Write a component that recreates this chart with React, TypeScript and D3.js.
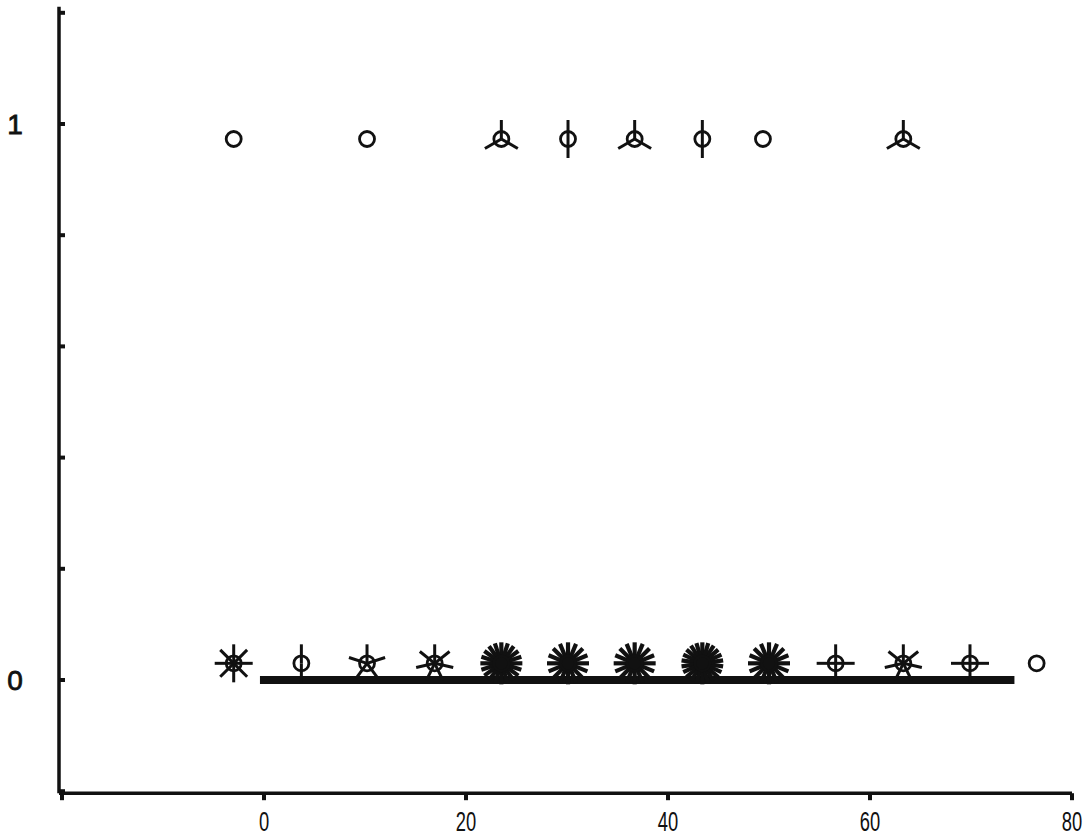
import React from "react";
import * as d3 from "d3";

const xTicks = [-20, 0, 20, 40, 60, 80];
const xTickLabels = ["", "0", "20", "40", "60", "80"];
const yTicks = [-0.2, 0, 0.2, 0.4, 0.6, 0.8, 1, 1.2];
const yTickLabels = ["", "0", "", "", "", "", "1", ""];

// upper row (y ≈ 1)
const topX = [-3, 10.2, 23.5, 30.1, 36.7, 43.4, 49.4, 63.3];
const topPetals = [1, 1, 3, 2, 3, 2, 1, 3];
const topY = 0.973;

// lower row (y ≈ 0)
const botX = [-3, 3.7, 10.2, 16.9, 23.5, 30.1, 36.7, 43.4, 50, 56.6, 63.3, 69.9, 76.5];
const botPetals = [8, 2, 5, 7, 20, 16, 16, 22, 16, 4, 7, 4, 1];
const botDark = [false, false, false, false, true, true, true, true, true, false, false, false, false];
const botY = 0.03;

const barStart = -0.4;
const barEnd = 74.3;

const W = 1091;
const H = 837;
const INK = "#111";

export default function App() {
  const x = d3.scaleLinear().domain([-20, 80]).range([62, 1072]);
  const y = d3.scaleLinear().domain([0, 1]).range([680, 124]);
  const axisX = 59;
  const axisY = y(-0.2) + 2;

  const flower = (cx: number, cy: number, n: number, dark: boolean, key: string) => {
    const L = dark ? 21 : 19;
    const petals = [] as React.ReactElement[];
    if (n > 1) {
      for (let i = 0; i < n; i++) {
        const a = Math.PI / 2 + (i * 2 * Math.PI) / n;
        petals.push(
          <line
            key={i}
            x1={cx}
            y1={cy}
            x2={cx + L * Math.cos(a)}
            y2={cy - L * Math.sin(a)}
            stroke={INK}
            strokeWidth={dark ? 4.2 : 3}
          />
        );
      }
    }
    return (
      <g key={key}>
        {petals}
        <circle
          cx={cx}
          cy={cy}
          r={7.5}
          fill={dark ? INK : n > 1 ? "none" : "white"}
          stroke={INK}
          strokeWidth={2.8}
        />
      </g>
    );
  };

  return (
    <svg width={W} height={H} style={{ position: "absolute", left: 0, top: 0, background: "white" }}>
      <rect width={W} height={H} fill="white" />
      {/* y axis */}
      <line x1={axisX} y1={y(1.2) - 6} x2={axisX} y2={axisY} stroke={INK} strokeWidth={3.5} />
      {yTicks.map((t, i) => (
        <g key={"yt" + i}>
          <line x1={axisX} x2={axisX + 6} y1={y(t)} y2={y(t)} stroke={INK} strokeWidth={4} />
          {yTickLabels[i] && (
            <text
              x={15}
              y={y(t) + 10}
              textAnchor="middle"
              fontFamily="Liberation Sans, Arial, sans-serif"
              fontSize={28}
              fill={INK}
              stroke={INK}
              strokeWidth={0.8}
            >
              {yTickLabels[i]}
            </text>
          )}
        </g>
      ))}
      {/* x axis */}
      <line x1={axisX} y1={axisY} x2={x(80)} y2={axisY} stroke={INK} strokeWidth={3.5} />
      {xTicks.map((t, i) => (
        <g key={"xt" + i}>
          <line x1={x(t)} x2={x(t)} y1={axisY} y2={axisY + 7} stroke={INK} strokeWidth={4} />
          {xTickLabels[i] && (
            <text
              transform={`translate(${x(t)},831) scale(0.68,1)`}
              textAnchor="middle"
              fontFamily="Liberation Sans, Arial, sans-serif"
              fontSize={27}
              fill={INK}
            >
              {xTickLabels[i]}
            </text>
          )}
        </g>
      ))}
      {/* bar at y = 0 */}
      <line x1={x(barStart)} x2={x(barEnd)} y1={y(0)} y2={y(0)} stroke={INK} strokeWidth={8} />
      {topX.map((v, i) => flower(x(v), y(topY), topPetals[i], false, "t" + i))}
      {botX.map((v, i) => flower(x(v), y(botY), botPetals[i], botDark[i], "b" + i))}
    </svg>
  );
}
